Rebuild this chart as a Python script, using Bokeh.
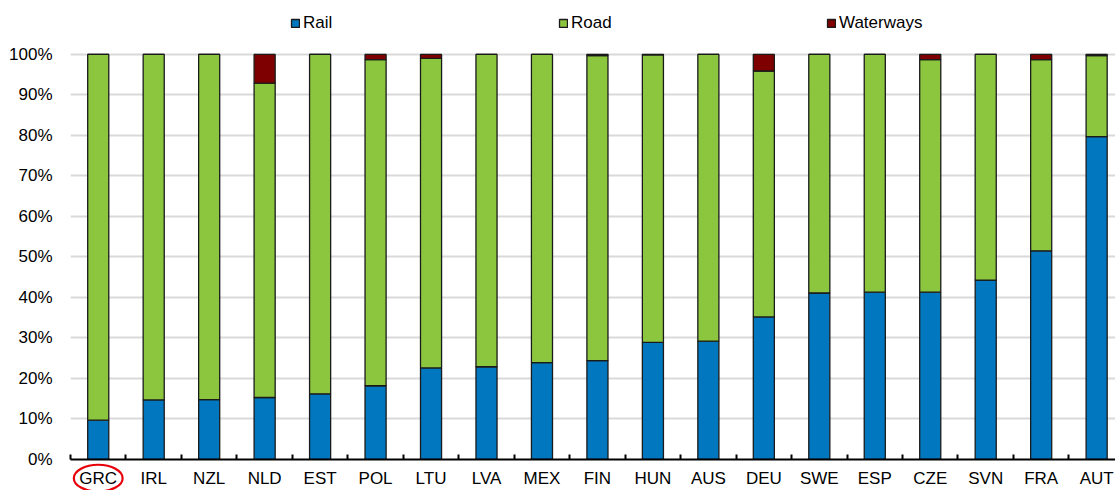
from bokeh.plotting import figure
from bokeh.models import (ColumnDataSource, Range1d, FixedTicker, Legend, LegendItem,
                          PrintfTickFormatter)
from bokeh.embed import file_html
from bokeh.resources import INLINE

countries = ["GRC", "IRL", "NZL", "NLD", "EST", "POL", "LTU", "LVA", "MEX", "FIN",
             "HUN", "AUS", "DEU", "SWE", "ESP", "CZE", "SVN", "FRA", "AUT"]
rail = [9.7, 14.7, 14.8, 15.3, 16.2, 18.2, 22.6, 22.9, 23.9, 24.4,
        28.9, 29.2, 35.2, 41.1, 41.3, 41.3, 44.3, 51.5, 79.7]
road = [90.3, 85.3, 85.2, 77.6, 83.8, 80.5, 76.4, 77.1, 76.1, 75.3,
        71.0, 70.8, 60.7, 58.9, 58.7, 57.4, 55.7, 47.2, 20.0]
waterways = [0.0, 0.0, 0.0, 7.1, 0.0, 1.3, 1.0, 0.0, 0.0, 0.3,
             0.1, 0.0, 4.1, 0.0, 0.0, 1.3, 0.0, 1.3, 0.3]
y_ticks = [0, 10, 20, 30, 40, 50, 60, 70, 80, 90, 100]
series_names = ["Rail", "Road", "Waterways"]
highlight = "GRC"

FONT = "Liberation Sans"
FS = "17px"
colors = ["#0077be", "#8cc63f", "#7f0000"]

x = list(range(len(countries)))
src = ColumnDataSource(dict(x=x, rail=rail, road=road, water=waterways))

W, H = 1115, 490
# frame spans the full height above the axis so the legend (drawn inside) is not clipped;
# 100% sits 406 px above the 0% line
p = figure(width=W, height=H, output_backend="svg", toolbar_location=None,
           x_range=Range1d(-0.5, 18.34), y_range=Range1d(0, 100 * 460 / 406),
           min_border_left=70, min_border_right=0, min_border_top=0, min_border_bottom=30)
p.outline_line_color = None
p.background_fill_color = "white"
p.border_fill_color = "white"

rs = p.vbar_stack(["rail", "road", "water"], x="x", width=0.38, source=src,
                  fill_color=colors, line_color="#1a1a1a", line_width=1.3)

# grid
p.xgrid.grid_line_color = None
p.ygrid.grid_line_color = "#d9d9d9"
p.ygrid.grid_line_width = 2
p.ygrid.ticker = FixedTicker(ticks=y_ticks)

# y axis
ya = p.yaxis[0]
ya.ticker = FixedTicker(ticks=y_ticks)
ya.formatter = PrintfTickFormatter(format="%d%%")
ya.axis_line_color = None
ya.major_tick_line_color = None
ya.minor_tick_line_color = None
ya.major_tick_out = 0
ya.major_tick_in = 0
ya.major_label_standoff = 18
ya.major_label_text_font = FONT
ya.major_label_text_font_size = FS
ya.major_label_text_color = "#000000"

# x axis
xa = p.xaxis[0]
xa.ticker = FixedTicker(ticks=x, minor_ticks=[i - 0.5 for i in range(len(countries) + 1)])
xa.major_label_overrides = {i: c for i, c in enumerate(countries)}
xa.axis_line_color = "#000000"
xa.axis_line_width = 2
xa.major_tick_line_color = None
xa.major_tick_in = 0
xa.major_tick_out = 0
xa.minor_tick_line_color = "#000000"
xa.minor_tick_line_width = 2
xa.minor_tick_in = 5
xa.minor_tick_out = 0
xa.major_label_standoff = 9
xa.major_label_text_font = FONT
xa.major_label_text_font_size = FS
xa.major_label_text_color = "#000000"

# legend inside the (tall) frame, above the 100% line
items = [LegendItem(label=n, renderers=[r]) for n, r in zip(series_names, rs)]
legend = Legend(items=items, orientation="horizontal", location=(220.0, 424.7),
                glyph_width=10, glyph_height=10, label_standoff=3, label_width=100,
                label_height=22, spacing=155, padding=0, margin=0,
                border_line_color=None, background_fill_alpha=0,
                label_text_font=FONT, label_text_font_size=FS, label_text_color="#000000")
p.add_layout(legend, "center")

# red ellipse around the highlighted category label
hi = countries.index(highlight)
p.ellipse(x=[hi], y=[-4.6], width=0.88, height=6.6, fill_alpha=0,
          line_color="#e8000b", line_width=2.2, level="overlay")

open("out.html", "w").write(file_html(p, INLINE))
